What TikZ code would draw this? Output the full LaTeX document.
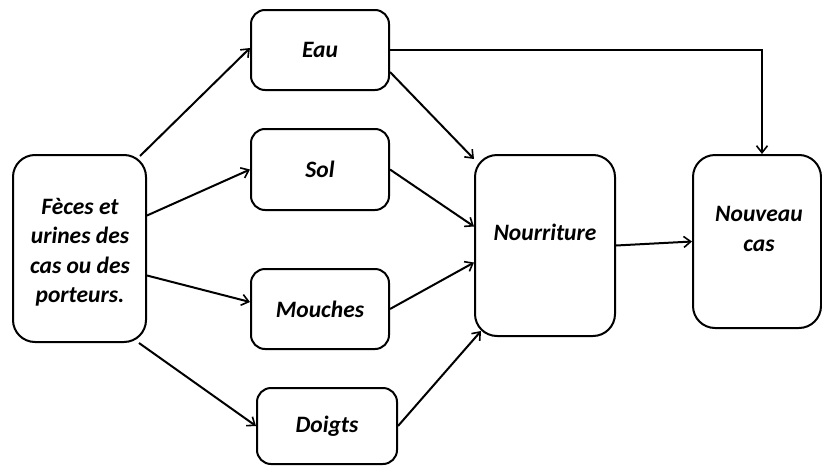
\documentclass[tikz,border=0pt]{standalone}
\usepackage{fontspec}
\setmainfont{Carlito}
\usetikzlibrary{arrows.meta}
\begin{document}
\begin{tikzpicture}[x=1pt,y=-1pt,
  box/.style={draw, line width=2pt, rounded corners=14pt, inner sep=0pt},
  bigbox/.style={box, rounded corners=22pt},
  lbl/.style={font=\fontsize{23.5}{29.5}\selectfont\bfseries\itshape, align=center},
  arr/.style={line width=2pt, -{Straight Barb[length=7pt,width=11pt,line width=1.6pt]}}]
\useasboundingbox (0,0) rectangle (822,466);
% boxes
\node[bigbox, minimum width=133pt, minimum height=187pt] (src) at (79.5,248.5) {};
\node[lbl] (srct) at (80,252) {Fèces et\\urines des\\cas ou des\\porteurs.};
\node[box, lbl, minimum width=138pt, minimum height=80pt] (eau) at (320,50) {Eau};
\node[box, lbl, minimum width=138pt, minimum height=81pt] (sol) at (320,169.5) {Sol};
\node[box, lbl, minimum width=138pt, minimum height=80pt] (mou) at (320,309) {Mouches};
\node[box, lbl, minimum width=140pt, minimum height=76pt] (doi) at (327,426) {Doigts};
\node[bigbox, minimum width=140pt, minimum height=181pt] (nour) at (545,245.5) {};
\node[lbl] (nourt) at (545,232) {Nourriture};
\node[bigbox, minimum width=128pt, minimum height=173pt] (nouv) at (757,241.5) {};
\node[lbl] (nouvt) at (759,229) {Nouveau\\cas};
% arrows
\draw[arr] ([xshift=-7pt,yshift=-2pt]src.north east) -- ([yshift=2pt]eau.west);
\draw[arr] ([yshift=33pt]src.east) -- (sol.west);
\draw[arr] ([yshift=-27pt]src.east) -- ([yshift=7pt]mou.west);
\draw[arr] ([xshift=-8pt]src.south east) -- (doi.west);
\draw[arr] ([yshift=-22pt]eau.east) -- ([yshift=-5pt]nour.north west);
\draw[arr] (sol.east) -- ([yshift=19pt]nour.west);
\draw[arr] (mou.east) -- ([yshift=-17pt]nour.west);
\draw[arr] (doi.east) -- ([xshift=7pt,yshift=6pt]nour.south west);
\draw[arr] (eau.east) -| ([xshift=5pt]nouv.north);
\draw[arr] (nour.east) -- (nouv.west);
\end{tikzpicture}
\end{document}
